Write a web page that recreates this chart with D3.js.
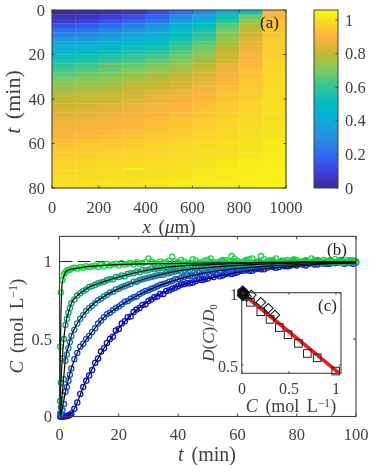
<!DOCTYPE html>
<html><head><meta charset="utf-8">
<script src="https://cdnjs.cloudflare.com/ajax/libs/d3/7.8.5/d3.min.js"></script>
<style>html,body{margin:0;padding:0;background:#fff}svg{display:block;filter:blur(.4px)}
text{font-family:"Liberation Serif",serif;fill:#404040}</style></head><body>
<svg id="c" width="379" height="472"></svg>
<script>
// ---------- panel (a) data: one list per 100 um column, one value per 2 min row
const heatTimes=d3.range(0,80,2);
const col0=[.01,.03,.08,.13,.2,.26,.32,.38,.43,.48,.52,.56,.6,.63,.66,.69,.72,.74,.76,.78,.8,.81,.83,.84,.86,.87,.88,.89,.9,.92,.935,.945,.95,.96,.97,.975,.98,.99,.995,1];
const col1=[.02,.05,.1,.16,.22,.28,.34,.4,.45,.5,.54,.58,.62,.65,.68,.71,.73,.75,.78,.79,.81,.83,.84,.86,.87,.88,.89,.9,.91,.93,.945,.95,.96,.97,.975,.98,.985,.99,1,1.005];
const col2=[.03,.08,.14,.2,.26,.32,.38,.44,.49,.53,.57,.61,.64,.67,.7,.73,.75,.77,.79,.81,.82,.84,.85,.87,.88,.89,.9,.91,.92,.94,.95,.96,.97,.975,.98,.985,.99,.995,1.005,1.01];
const col3=[.06,.12,.19,.25,.31,.36,.42,.47,.52,.56,.6,.64,.67,.7,.73,.75,.78,.8,.82,.83,.85,.86,.87,.88,.89,.9,.91,.92,.93,.95,.96,.97,.975,.98,.985,.99,.995,1,1.005,1.01];
const col4=[.12,.18,.25,.31,.36,.41,.46,.5,.55,.59,.63,.67,.7,.73,.76,.78,.8,.82,.84,.86,.87,.88,.89,.9,.91,.92,.93,.94,.95,.96,.97,.975,.98,.985,.99,.995,1,1.005,1.01,1.015];
const col5=[.2,.28,.36,.42,.47,.51,.55,.59,.62,.65,.68,.71,.74,.76,.79,.81,.83,.85,.87,.88,.89,.9,.91,.92,.93,.94,.945,.95,.96,.97,.98,.985,.99,.995,1,1.005,1.01,1.015,1.02,1.02];
const col6=[.28,.37,.45,.5,.55,.59,.62,.66,.69,.71,.74,.76,.79,.81,.83,.85,.86,.88,.89,.9,.91,.92,.93,.94,.95,.955,.96,.965,.975,.98,.985,.99,.995,1,1.005,1.01,1.015,1.02,1.02,1.025];
const col7=[.42,.53,.6,.65,.68,.71,.74,.76,.78,.8,.82,.84,.86,.87,.88,.89,.91,.92,.93,.94,.94,.95,.955,.96,.97,.975,.98,.98,.985,.99,.995,1,1.005,1.01,1.015,1.02,1.025,1.025,1.03,1.03];
const col8=[.52,.68,.74,.77,.8,.82,.84,.86,.87,.88,.89,.9,.91,.92,.93,.935,.94,.95,.955,.96,.965,.97,.975,.98,.985,.985,.99,.995,1,1,1.005,1.01,1.015,1.02,1.025,1.03,1.03,1.035,1.035,1.04];
const col9=[.9,.91,.92,.93,.94,.94,.95,.955,.96,.96,.965,.97,.97,.975,.98,.98,.985,.985,.99,.99,.995,.995,1,1,1,1.005,1.005,1.01,1.015,1.02,1.02,1.025,1.03,1.03,1.035,1.035,1.04,1.04,1.04,1.045];
const heatCols=[col0,col1,col2,col3,col4,col5,col6,col7,col8,col9];
const stripeCol=[2,3], stripeT=[24,71], stripeV=[.8,1.06];
const xTicksA=[0,200,400,600,800,1000], yTicksA=[0,20,40,60,80], cbTicks=[0,.2,.4,.6,.8,1];
const cmapAt=[0,.1,.2,.3,.4,.5,.6,.7,.8,.9,1,1.06];
const cmapColors=["#3a2a9a","#4040e0","#2b6cf0","#2590e0","#10aad8","#00bcc4","#30c49a","#7ccb60","#c4b830","#ffb43c","#f8e020","#f8fa10"];

// ---------- panel (b) data
const obsTimes=[.2,.5,1,1.5,2,2.5,3,3.5,4,5,6,7,8,9,10,11,12,13,14,15,16,17,18,19,20,21,22,23,24,25,26,27,28,29,30,31,32,33,34,35,36,37,38,39,40,42,44,46,48,50,52,54,56,58,60,62,64,66,68,70,72,74,76,78,80,82,84,86,88,90,92,94,96,98,100,41,43,45,47,49,51,53,55,57,59,61,63,65,67,69,71,73,75,77,79,81,83,85,87,89,91,93,95,97,99];
const obs1=[0,0,0,0,.002,.004,.006,.01,.02,.05,.09,.145,.19,.23,.265,.30,.345,.375,.42,.44,.475,.50,.515,.555,.565,.60,.615,.64,.645,.675,.69,.70,.72,.725,.745,.755,.77,.775,.79,.79,.81,.815,.825,.83,.84,.855,.86,.875,.88,.89,.90,.905,.92,.92,.93,.94,.94,.95,.95,.96,.965,.965,.97,.975,.975,.98,.985,.98,.99,.985,.99,.995,.985,.99,.995,.85,.86,.865,.885,.885,.905,.915,.91,.925,.925,.94,.945,.94,.955,.95,.97,.96,.975,.97,.98,.985,.975,.99,.98,.995,.985,.99,1,.99,.985];
const obs2=[.01,.02,.04,.08,.16,.19,.23,.27,.31,.37,.41,.45,.47,.50,.52,.545,.57,.60,.62,.64,.66,.67,.685,.70,.71,.725,.74,.745,.76,.77,.775,.79,.80,.81,.815,.825,.83,.84,.85,.855,.86,.87,.875,.885,.885,.90,.905,.915,.92,.93,.935,.94,.945,.95,.955,.96,.96,.97,.965,.975,.975,.98,.98,.985,.98,.985,.99,.985,.995,.99,.99,.995,.99,1,.995,.895,.91,.905,.925,.92,.94,.93,.955,.945,.965,.955,.97,.96,.98,.97,.985,.975,.99,.98,.995,.985,.995,.99,1,.985,1,.99,1.005,.99,1];
const obs3=[.02,.06,.14,.24,.36,.40,.44,.48,.52,.56,.60,.63,.655,.68,.70,.715,.73,.75,.76,.775,.785,.80,.805,.82,.825,.835,.84,.85,.855,.87,.87,.88,.885,.89,.895,.90,.905,.91,.915,.915,.925,.925,.93,.935,.94,.945,.945,.955,.955,.96,.965,.965,.97,.975,.97,.98,.975,.985,.98,.985,.99,.985,.99,.99,.995,.99,.995,.99,1,.995,.995,1,.99,1,.995,.935,.955,.945,.965,.95,.975,.96,.98,.965,.985,.975,.985,.975,.995,.98,.995,.985,1,.985,1.005,.99,1,.99,1.005,.99,1.005,.995,1,.995,1.005];
const obs4=[.10,.22,.375,.50,.59,.63,.67,.70,.73,.755,.78,.795,.81,.82,.835,.84,.85,.86,.865,.87,.88,.885,.885,.90,.90,.91,.905,.92,.925,.925,.935,.93,.945,.94,.945,.955,.95,.955,.96,.96,.965,.965,.97,.97,.97,.975,.975,.98,.98,.975,.985,.985,.99,.985,.99,.985,.99,.995,.99,.99,.995,.99,1,.995,.99,1,.995,1,.995,1,.995,1,1,.995,1,.965,.985,.97,.99,.97,.995,.98,1,.98,1,.985,1.005,.985,1,.99,1.005,.99,1.005,.99,1.005,.995,1.005,.99,1.01,.995,1.005,.995,1.01,.995,1.005];
const obs5=[.45,.80,.88,.92,.93,.94,.945,.945,.955,.96,.955,.965,.96,.97,.965,.97,.975,.965,.98,.97,.985,.975,.98,.985,.975,.99,.98,.985,.99,.98,.995,.985,.99,.995,1.02,1,.99,.985,1.0,.99,.995,1.005,1.03,1.0,.995,1.0,.99,1.005,.995,1.01,.995,1.0,1.01,1.035,1.005,1,1.015,.995,1.035,1,1.01,.995,1.005,1.0,1.01,1.0,.995,1.01,1.0,1.005,.995,1.005,1.0,1.01,1.0,1.01,.985,1.015,.99,1.005,1.02,.99,1.01,1.0,1.02,.99,1.01,1.02,.99,1.015,1.005,1.02,.995,1.01,1.015,.99,1.01,1.02,.995,1.01,1.0,1.015,.99,1.01,1.005];
const obsAll=[obs1,obs2,obs3,obs4,obs5];
const obsColors=["#0a12ee","#1450d4","#1a80a8","#12a478","#1ad644"];
const fitTimes=[0,.5,1,2,3,4,6,8,10,15,20,30,40,50,60,70,80,90,100];
const fit1=[0,0,0,.001,.006,.02,.09,.19,.27,.44,.57,.745,.84,.89,.93,.955,.97,.985,.99];
const fit2=[0,.02,.06,.16,.24,.31,.41,.47,.52,.64,.71,.815,.885,.93,.955,.97,.98,.99,.995];
const fit3=[0,.07,.16,.37,.45,.52,.60,.655,.70,.775,.825,.895,.94,.96,.975,.985,.99,.995,.998];
const fit4=[0,.23,.39,.59,.67,.73,.78,.81,.835,.87,.90,.945,.97,.98,.987,.992,.995,.997,.999];
const fit5=[0,.68,.87,.93,.945,.95,.957,.963,.968,.975,.98,.985,.988,.99,.992,.994,.996,.998,.999];
const fitAll=[fit1,fit2,fit3,fit4,fit5];
const xTicksB=[0,20,40,60,80,100], yTicksB=[0,.5,1];

// ---------- panel (c) data
const squareC=[0,.09,.2,.298,.397,.49,.6,.695,.8,.997];
const squareD=[1,.935,.87,.817,.76,.71,.65,.58,.55,.458];
const diamondC=[.35,.28,.2,.1,.05,.03,.025,.02,.015,.012,.01,.008,.006,.005,.003,.002];
const diamondD=[.847,.894,.935,.986,.975,.99,1.005,.985,1.01,.995,.98,1.0,1.015,.99,1.005,.985];
const lineC=[0,1.03], lineD=[1,.445];
const xTicksC=[0,.5,1], yTicksC=[.5,1];

const svg=d3.select("#c");
const axisColor="#404040";
function label(sel,parts){parts.forEach(p=>{const t=sel.append("tspan").text(p.t);
  if(p.i)t.attr("font-style","italic");if(p.s)t.attr("font-size",p.s);if(p.dy)t.attr("dy",p.dy);});return sel.attr("word-spacing",3);}
function frame(g,x0,x1,y0,y1,xs,ys,xT,yT,len,top,right){
  g.append("rect").attr("x",x0).attr("y",y0).attr("width",x1-x0).attr("height",y1-y0).attr("fill","none").attr("stroke",axisColor).attr("stroke-width",1.1);
  xT.forEach(v=>{const p=xs(v);g.append("line").attr("x1",p).attr("x2",p).attr("y1",y1).attr("y2",y1-len).attr("stroke",axisColor);
    if(top)g.append("line").attr("x1",p).attr("x2",p).attr("y1",y0).attr("y2",y0+len).attr("stroke",axisColor);});
  yT.forEach(v=>{const p=ys(v);g.append("line").attr("y1",p).attr("y2",p).attr("x1",x0).attr("x2",x0+len).attr("stroke",axisColor);
    if(right)g.append("line").attr("y1",p).attr("y2",p).attr("x1",x1).attr("x2",x1-len).attr("stroke",axisColor);});
}
function tickText(g,x,y,s,anchor,size){return g.append("text").attr("x",x).attr("y",y).attr("text-anchor",anchor).attr("font-size",size).attr("dominant-baseline","central").text(s);}

// ---------- (a)
const xA=d3.scaleLinear().domain([0,1000]).range([52,286]);
const yA=d3.scaleLinear().domain([0,80]).range([10,188]);
const cDomain=[0,1.06];
const color=d3.scaleLinear().domain(cmapAt).range(cmapColors).clamp(true);
const gA=svg.append("g");
heatCols.forEach((col,ci)=>{
  gA.selectAll(null).data(col).join("rect")
   .attr("x",xA(ci*100)).attr("width",xA(100)-xA(0)+.3)
   .attr("y",(d,i)=>yA(heatTimes[i])).attr("height",yA(2)-yA(0)+.3)
   .attr("fill",d=>color(d));
});
stripeCol.forEach((c,i)=>gA.append("rect").attr("x",xA(c*100)).attr("width",xA(100)-xA(0)).attr("y",yA(stripeT[i])).attr("height",yA(1)-yA(0)-1).attr("fill",color(stripeV[i])));
frame(gA,52,286,10,188,xA,yA,xTicksA,yTicksA,2.5,true,true);
xTicksA.forEach(v=>tickText(gA,xA(v),207,v,"middle",16.5));
yTicksA.forEach(v=>tickText(gA,45,yA(v),v,"end",16.5));
label(gA.append("text").attr("x",169).attr("y",233).attr("text-anchor","middle").attr("font-size",19),[{t:"x",i:1},{t:" ("},{t:"μ",i:1},{t:"m)"}]);
label(gA.append("text").attr("transform","translate(20,102) rotate(-90)").attr("text-anchor","middle").attr("font-size",22),[{t:"t",i:1},{t:" (min)"}]);
gA.append("text").attr("x",260).attr("y",28).attr("font-size",17).text("(a)").style("fill","#222");
// colour bar
const cbY=d3.scaleLinear().domain(cDomain).range([188,10]);
const defs=svg.append("defs").append("linearGradient").attr("id","cb").attr("x1",0).attr("x2",0).attr("y1",1).attr("y2",0);
cmapAt.forEach((v,i)=>defs.append("stop").attr("offset",v/cDomain[1]).attr("stop-color",cmapColors[i]));
svg.append("rect").attr("x",314).attr("y",10).attr("width",24).attr("height",178).attr("fill","url(#cb)").attr("stroke",axisColor).attr("stroke-width",1);
cbTicks.forEach(v=>{tickText(svg,345,cbY(v),v,"start",16.5);
  svg.append("line").attr("x1",335.5).attr("x2",338).attr("y1",cbY(v)).attr("y2",cbY(v)).attr("stroke",axisColor);});

// ---------- (b)
const xB=d3.scaleLinear().domain([0,100]).range([59.5,356]);
const yB=d3.scaleLinear().domain([0,1.162]).range([416.5,236.4]);
const gB=svg.append("g");
gB.append("line").attr("x1",xB(0)).attr("x2",xB(100)).attr("y1",yB(1)).attr("y2",yB(1)).attr("stroke","#222").attr("stroke-width",1).attr("stroke-dasharray","13 5");
obsAll.forEach((s,si)=>{
  gB.append("g").selectAll("circle").data(s).join("circle")
   .attr("cx",(d,i)=>xB(obsTimes[i])).attr("cy",d=>yB(d)).attr("r",2.6)
   .attr("fill","none").attr("stroke",obsColors[si]).attr("stroke-width",1.3);
});
const fitLine=d3.line().x((d,i)=>xB(fitTimes[i])).y(d=>yB(d)).curve(d3.curveMonotoneX);
fitAll.forEach(f=>gB.append("path").attr("d",fitLine(f)).attr("fill","none").attr("stroke","#0a0a0a").attr("stroke-width",1.2));
frame(gB,59.5,356,236.4,416.5,xB,yB,xTicksB,yTicksB,3,true,true);
xTicksB.forEach(v=>tickText(gB,xB(v),434,v,"middle",16.5));
tickText(gB,52,yB(1),"1","end",16.5);tickText(gB,52,yB(.5),"0.5","end",16.5);tickText(gB,52,yB(0),"0","end",16.5);
label(gB.append("text").attr("x",207).attr("y",461).attr("text-anchor","middle").attr("font-size",20),[{t:"t",i:1},{t:" (min)"}]);
label(gB.append("text").attr("transform","translate(23,326) rotate(-90)").attr("text-anchor","middle").attr("font-size",19),[{t:"C",i:1},{t:" (mol L"},{t:"−1",s:12,dy:-6},{t:")",dy:6}]);
gB.append("text").attr("x",327).attr("y",255).attr("font-size",17).text("(b)").style("fill","#222");

// ---------- (c)
const xC=d3.scaleLinear().domain([0,1]).range([242,336]);
const yC=d3.scaleLinear().domain([.5,1]).range([365,293]);
const gC=svg.append("g");
const x0C=241.7,x1C=341,y0C=292.7,y1C=373.3;
frame(gC,x0C,x1C,y0C,y1C,xC,yC,xTicksC,yTicksC,2,true,true);
gC.append("line").attr("x1",xC(lineC[0])).attr("x2",xC(lineC[1])).attr("y1",yC(lineD[0])).attr("y2",yC(lineD[1])).attr("stroke","#ee1c1c").attr("stroke-width",3.6);
gC.selectAll(".sq").data(squareC).join("rect").attr("x",d=>xC(d)-3.8).attr("width",7.6).attr("height",7.6)
  .attr("y",(d,i)=>yC(squareD[i])-3.8).attr("fill","none").attr("stroke","#222").attr("stroke-width",1);
const dia=d3.symbol().type(d3.symbolSquare).size(46)();
gC.selectAll(".di").data(diamondC).join("path").attr("d",dia)
  .attr("transform",(d,i)=>`translate(${xC(d)},${yC(diamondD[i])}) rotate(45)`).attr("fill","none").attr("stroke","#111").attr("stroke-width",1);
tickText(gC,xC(0),388,"0","middle",16);tickText(gC,xC(.5),388,"0.5","middle",16);tickText(gC,xC(1),388,"1","middle",16);
tickText(gC,238,yC(1)+1,"1","end",16);tickText(gC,238,yC(.5)+1,"0.5","end",16);
label(gC.append("text").attr("x",291).attr("y",412).attr("text-anchor","middle").attr("font-size",18),[{t:"C",i:1},{t:" (mol L"},{t:"−1",s:11.5,dy:-5},{t:")",dy:5}]);
label(gC.append("text").attr("transform","translate(214,333) rotate(-90)").attr("text-anchor","middle").attr("font-size",17),[{t:"D",i:1},{t:"("},{t:"C",i:1},{t:")/"},{t:"D",i:1},{t:"0",s:11,dy:3}]);
gC.append("text").attr("x",318).attr("y",311).attr("font-size",17).text("(c)").style("fill","#222");
</script></body></html>
